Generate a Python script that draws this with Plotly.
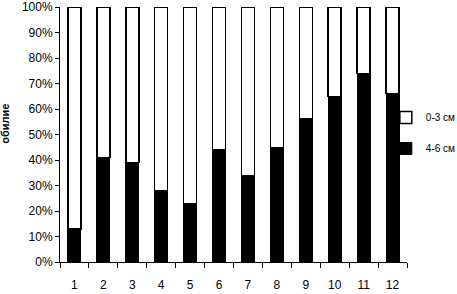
import plotly.graph_objects as go

categories = ["1", "2", "3", "4", "5", "6", "7", "8", "9", "10", "11", "12"]
deep_4_6 = [13, 41, 39, 28, 23, 44, 34, 45, 56, 65, 74, 66]
top_0_3 = [100 - v for v in deep_4_6]
y_ticks = [0, 10, 20, 30, 40, 50, 60, 70, 80, 90, 100]
y_labels = [f"{v}%" for v in y_ticks]

FONT = "Liberation Sans, Arial, sans-serif"

fig = go.Figure()
fig.add_trace(go.Bar(
    x=categories, y=deep_4_6, name="4-6 см", legendgroup="b", legendrank=2,
    marker=dict(color="black", line=dict(color="black", width=1)),
))
fig.add_trace(go.Bar(
    x=categories, y=top_0_3, name="0-3 см", legendgroup="a", legendrank=1,
    marker=dict(color="white", line=dict(color="black", width=1.5)),
))

fig.update_layout(
    width=457, height=294,
    margin=dict(l=60, r=50, t=7, b=32, autoexpand=False),
    barmode="stack", bargap=0.55,
    paper_bgcolor="white", plot_bgcolor="white",
    font=dict(family=FONT, size=12, color="black"),
    showlegend=True,
    legend=dict(
        x=0.939, y=0.506, xanchor="left", yanchor="middle",
        traceorder="grouped", tracegroupgap=12,
        bgcolor="rgba(0,0,0,0)", font=dict(size=10, family=FONT),
        itemwidth=30,
    ),
)
fig.update_xaxes(
    type="category", showline=True, linecolor="black", linewidth=1,
    ticks="outside", tickson="boundaries", ticklen=5, tickcolor="black",
    ticklabelstandoff=12, showgrid=False, zeroline=False,
    tickfont=dict(size=12, family=FONT),
)
fig.update_yaxes(
    range=[0, 100], tickvals=y_ticks, ticktext=y_labels,
    showline=True, linecolor="black", linewidth=1,
    ticks="outside", ticklen=4, tickcolor="black",
    showgrid=False, zeroline=False,
    tickfont=dict(size=12, family=FONT),
)
fig.add_annotation(
    text="<b>обилие</b>", textangle=-90, xref="paper", yref="paper",
    x=-0.157, y=0.54, xanchor="center", yanchor="middle", showarrow=False,
    font=dict(size=11, family=FONT),
)
fig.write_html(
    "out.html",
    config={"displayModeBar": False},
    post_script="document.body.style.margin='0px';document.body.style.overflow='hidden';",
)
